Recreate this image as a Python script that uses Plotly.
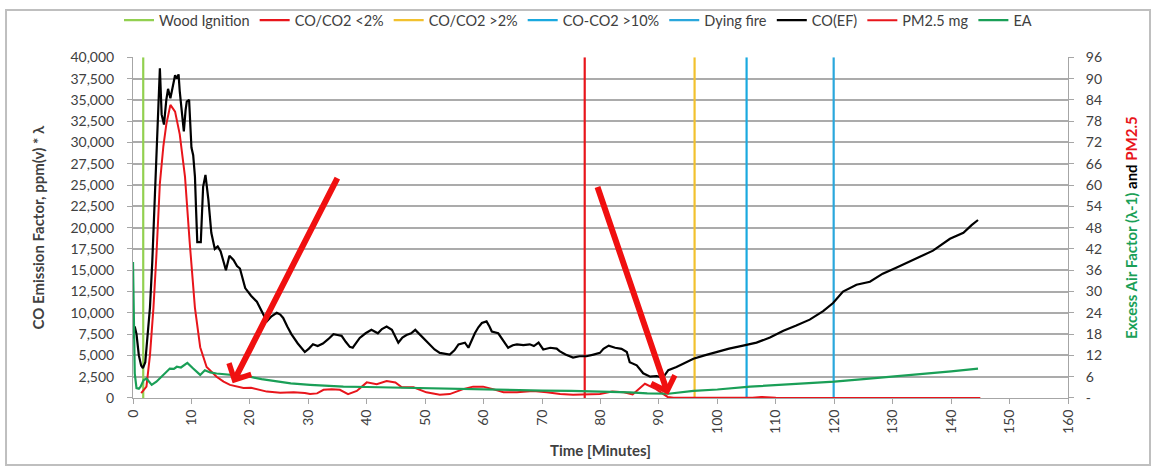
import plotly.graph_objects as go

# ---------------- data ----------------
event_names = ["Wood Ignition", "CO/CO2 &lt;2%", "CO/CO2 &gt;2%", "CO-CO2 &gt;10%", "Dying fire"]
event_times = [1.75, 77.3, 96.1, 105.0, 119.9]
event_colors = ["#92D050", "#E8151B", "#F2C12E", "#1AA9DF", "#2AA7DC"]

co_t = [0.0, 0.3, 0.6, 1.0, 1.4, 1.7, 2.1, 2.5, 2.9, 3.3, 3.75, 4.2, 4.6, 4.9, 5.3, 5.7, 6.0, 6.4,
        6.8, 7.2, 7.5, 7.8, 8.0, 8.4, 8.7, 9.0, 9.2, 9.6, 10.0, 10.3, 10.6, 10.8, 11.0, 11.6, 12.0,
        12.4, 12.9, 13.4, 14.0, 14.5, 15.0, 15.5, 15.9, 16.5, 17.2, 17.8, 18.3, 19.2, 20.2, 21.2,
        22.0, 22.9, 23.7, 24.6, 25.2, 25.7, 26.4, 27.1, 28.2, 29.4, 30.1, 30.8, 31.6, 32.5, 33.4,
        34.3, 35.0, 35.7, 36.4, 37.1, 37.6, 38.8, 39.8, 40.8, 41.9, 42.6, 43.4, 44.3, 45.4, 46.1,
        46.8, 47.6, 48.3, 49.4, 50.8, 51.6, 52.5, 53.3, 54.2, 55.0, 55.7, 56.8, 57.4, 58.5, 59.1,
        59.7, 60.5, 61.0, 61.4, 62.5, 63.4, 64.2, 65.0, 65.7, 66.8, 67.9, 68.6, 69.4, 70.2, 71.4,
        72.5, 73.0, 74.0, 75.3, 76.4, 77.6, 78.8, 79.9, 80.5, 81.4, 82.5, 83.6, 84.5, 85.0, 86.2,
        87.3, 88.5, 89.6, 90.7, 91.6, 93.0, 94.5, 95.9, 97.8, 99.8, 102.0, 104.4, 106.7, 109.0,
        111.3, 113.5, 115.8, 118.1, 119.8, 121.5, 123.8, 126.1, 128.3, 130.6, 132.9, 134.9, 136.9,
        139.8, 142.1, 143.5, 144.6]
co_ef = [7000, 8400, 7500, 5000, 3800, 3500, 4200, 7000, 10600, 16000, 24000, 32000, 38700, 33300,
         32100, 35000, 36300, 35200, 36500, 37900, 37500, 38000, 36000, 33500, 31300, 33800, 34800,
         35000, 29400, 28500, 26000, 22000, 18300, 18300, 24800, 26200, 23300, 19400, 17500, 17800,
         17200, 16000, 15000, 16700, 16200, 15500, 15200, 12900, 12000, 11300, 10200, 9000, 9600,
         10000, 9800, 9400, 8400, 7500, 6400, 5400, 5800, 6300, 6100, 6400, 6900, 7500, 7400, 7300,
         6600, 6000, 5900, 7050, 7600, 8000, 7600, 8100, 8400, 8000, 6500, 7100, 7400, 7600, 8000,
         7250, 6300, 5700, 5300, 5200, 5100, 5600, 6300, 6500, 5900, 7600, 8300, 8800, 9000, 8400,
         7800, 7600, 6700, 5900, 6200, 6300, 6200, 6300, 6100, 6500, 5700, 5900, 5800, 5500, 5100,
         4750, 4900, 4900, 5100, 5300, 5770, 6150, 5900, 5770, 5400, 4200, 3840, 2900, 2500, 2560,
         2400, 3270, 3650, 4100, 4600, 5000, 5400, 5800, 6150, 6500, 7100, 7900, 8500, 9200, 10200,
         11150, 12500, 13300, 13650, 14600, 15300, 16000, 16600, 17300, 18700, 19400, 20300, 20900]

pm_t = [1.4, 2.3, 2.9, 3.5, 4.0, 4.6, 5.2, 5.7, 6.4, 7.2, 8.0, 8.9, 9.7, 10.6, 11.5, 12.6, 14.3,
        15.5, 16.6, 18.9, 20.2, 21.5, 22.9, 25.2, 27.5, 29.4, 30.3, 31.5, 32.6, 34.0, 35.4, 36.8,
        38.3, 40.0, 41.7, 43.4, 44.9, 46.0, 48.0, 50.2, 52.5, 54.2, 56.5, 58.2, 59.9, 61.6, 63.4,
        65.7, 68.5, 70.8, 73.1, 75.3, 77.6, 79.9, 82.0, 84.0, 85.5, 87.6, 89.5, 91.5, 92.5, 95.0,
        100.0, 106.0, 107.5, 109.0, 110.0, 120.0, 145.0]
pm25 = [1.4, 3.2, 12.0, 25.4, 40.0, 60.5, 71.0, 77.1, 82.6, 80.7, 74.3, 62.3, 43.9, 25.4, 14.3,
        8.75, 6.0, 4.6, 3.7, 2.8, 2.9, 2.4, 1.8, 1.5, 1.6, 1.4, 1.1, 1.3, 2.3, 2.5, 2.3, 1.1, 2.0,
        4.4, 3.9, 4.8, 4.4, 3.0, 3.0, 1.6, 0.9, 1.1, 2.5, 3.2, 3.2, 2.5, 1.6, 1.6, 2.0, 1.6, 1.1,
        0.9, 1.1, 1.1, 1.8, 1.6, 1.0, 4.0, 2.5, 0.3, 0.1, 0.1, 0.05, 0.05, 0.3, 0.2, 0.05, 0.02, 0.02]

ea_t = [0.0, 0.15, 0.3, 0.6, 1.0, 1.3, 1.8, 2.3, 2.8, 3.2, 4.0, 4.8, 5.5, 6.3, 7.0, 7.5, 8.2, 9.3,
        10.3, 11.5, 12.3, 13.2, 14.3, 16.5, 18.0, 20.0, 22.0, 24.6, 27.0, 30.3, 33.0, 36.0, 40.0,
        45.0, 50.0, 55.0, 60.0, 65.0, 70.0, 75.0, 80.0, 85.0, 88.0, 91.6, 95.9, 100.0, 105.6,
        110.0, 114.0, 120.0, 125.0, 130.0, 135.0, 140.0, 144.6]
ea = [38.3, 20.0, 6.9, 2.8, 2.6, 3.2, 5.0, 5.5, 4.5, 3.7, 4.6, 5.8, 6.9, 8.3, 8.2, 8.8, 8.6, 9.9,
      8.3, 6.5, 7.8, 7.2, 6.9, 6.5, 6.3, 6.0, 5.3, 4.6, 4.1, 3.7, 3.4, 3.2, 3.1, 2.9, 2.7, 2.6,
      2.5, 2.2, 2.1, 2.0, 1.9, 1.6, 1.3, 1.2, 2.0, 2.4, 3.2, 3.6, 4.0, 4.6, 5.3, 6.0, 6.8, 7.5, 8.3]

left_range = [0, 40000]
right_range = [0, 96]
right_ticks = list(range(0, 97, 6))
right_ticktext = ["-"] + [str(v) for v in right_ticks[1:]]

# arrows: (head_x, head_y, tail_x, tail_y) in left-axis data units
arrows = [(17.06, 1730, 35.1, 26000), (91.6, 380, 79.4, 24950)]

FONT = "Lato, 'Open Sans', sans-serif"
TXT = "#404040"

fig = go.Figure()
for name, t, c in zip(event_names, event_times, event_colors):
    fig.add_trace(go.Scatter(x=[t, t], y=left_range, mode="lines", name=name,
                             line=dict(color=c, width=2.2), yaxis="y"))
fig.add_trace(go.Scatter(x=co_t, y=co_ef, mode="lines", name="CO(EF)",
                         line=dict(color="#000000", width=2.2), yaxis="y"))
fig.add_trace(go.Scatter(x=pm_t, y=pm25, mode="lines", name="PM2.5 mg",
                         line=dict(color="#E8151B", width=2), yaxis="y2"))
fig.add_trace(go.Scatter(x=ea_t, y=ea, mode="lines", name="EA",
                         line=dict(color="#1A9F57", width=2.2), yaxis="y2"))

for hx, hy, tx, ty in arrows:
    fig.add_annotation(x=hx, y=hy, ax=tx, ay=ty, xref="x", yref="y", axref="x", ayref="y",
                       text="", showarrow=True, arrowhead=4, arrowsize=0.8, arrowwidth=6,
                       arrowcolor="#F01010", standoff=0)

fig.add_shape(type="rect", xref="paper", yref="paper", x0=-0.1358, x1=1.0877, y0=-0.1965, y1=1.1387,
              line=dict(color="#BFBFBF", width=2), fillcolor="rgba(0,0,0,0)", layer="below")

fig.update_layout(
    width=1156, height=470,
    margin=dict(l=133, r=88, t=52, b=72),
    paper_bgcolor="white", plot_bgcolor="white",
    font=dict(family=FONT, size=14, color=TXT),
    showlegend=True,
    legend=dict(orientation="h", xref="container", yref="container", x=0.5, y=0.957,
                xanchor="center", yanchor="middle", font=dict(size=14.5, color=TXT),
                bgcolor="rgba(0,0,0,0)"),
    xaxis=dict(range=[0, 160], tickmode="linear", tick0=0, dtick=10, tickangle=-90,
               showgrid=False, zeroline=False, showline=True, linecolor="#A6A6A6", linewidth=1,
               ticks="outside", ticklen=5, tickcolor="#A6A6A6",
               title=dict(text="<b>Time [Minutes]</b>", standoff=12, font=dict(size=15, color=TXT))),
    yaxis=dict(range=left_range, tickmode="linear", tick0=0, dtick=2500, tickformat=",",
               showgrid=True, gridcolor="#ABABAB", gridwidth=1.5, zeroline=False,
               showline=True, linecolor="#A6A6A6", linewidth=1, ticks="outside", ticklen=5,
               tickcolor="#A6A6A6", ticklabelstandoff=10,
               title=dict(text="<b>CO Emission Factor, ppm(v) * λ</b>", standoff=22,
                          font=dict(size=15, color=TXT))),
    yaxis2=dict(range=right_range, overlaying="y", side="right", tickmode="array",
                tickvals=right_ticks, ticktext=right_ticktext, showgrid=False, zeroline=False,
                showline=True, linecolor="#A6A6A6", linewidth=1, ticks="outside", ticklen=5,
                tickcolor="#A6A6A6", ticklabelstandoff=9,
                title=dict(text="<b><span style='color:#1A9F57'>Excess Air Factor (λ-1)</span> and "
                                "<span style='color:#E8151B'>PM2.5</span></b>",
                           standoff=25, font=dict(size=15, color="#000000"))),
)

fig.write_html("out.html")
